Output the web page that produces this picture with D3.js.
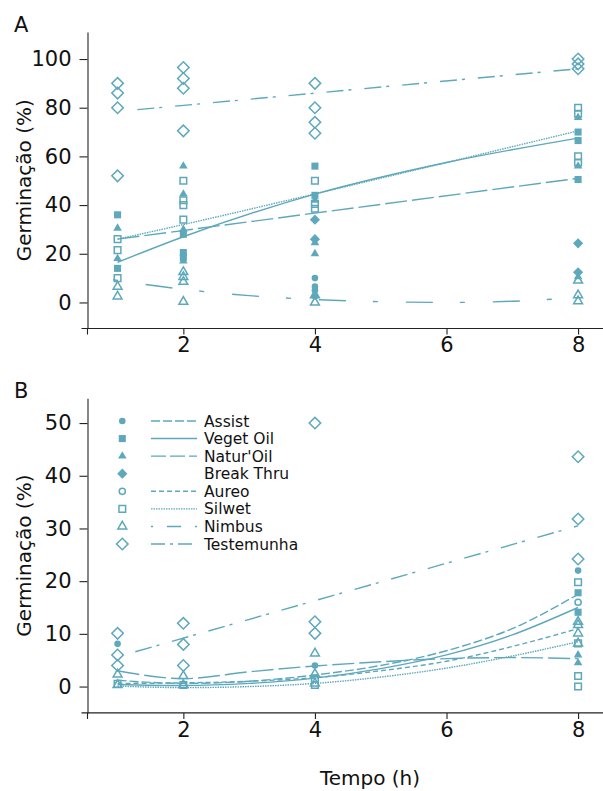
<!DOCTYPE html>
<html><head><meta charset="utf-8">
<script src="https://cdn.jsdelivr.net/npm/d3@7/dist/d3.min.js"></script>
<style>
body{margin:0;background:#fff;}
svg{display:block;font-family:"DejaVu Sans",sans-serif;}
</style></head>
<body><svg id="c" width="603" height="791"></svg>
<script>
// ---------- data ----------
const seriesNames = ["Assist","Veget Oil","Natur'Oil","Break Thru","Aureo","Silwet","Nimbus","Testemunha"];
const xTicks = [2,4,6,8];
const yTicksA = [0,20,40,60,80,100];
const yTicksB = [0,10,20,30,40,50];

// Panel A observed points [time, germination %]
const ptsA_Assist    = [[4,10],[4,6.5],[4,5],[4,2.5]];
const ptsA_VegetOil  = [[1,36],[1,14],[2,28],[2,20.5],[2,18.5],[4,56],[4,44],[8,70],[8,66.5],[8,50.5]];
const ptsA_NaturOil  = [[1,30.5],[1,18],[2,56],[2,44.5],[2,30],[2,17],[4,42],[4,24.5],[4,20],[8,76],[8,56],[8,10.5]];
const ptsA_BreakThru = [[4,34],[4,26],[8,24.3],[8,12.4]];
const ptsA_Aureo     = [];
const ptsA_Silwet    = [[1,26],[1,21.5],[1,10],[2,50],[2,42],[2,40],[2,34],[4,50],[4,40.5],[4,38.5],[8,80],[8,77.5],[8,60],[8,57.5]];
const ptsA_Nimbus    = [[1,6.5],[1,2.5],[2,12.5],[2,10.5],[2,8.5],[2,0.3],[4,3],[4,0],[8,9],[8,3],[8,0.5]];
const ptsA_Testem    = [[1,90],[1,86],[1,80],[1,52],[2,96.5],[2,92],[2,88],[2,70.5],[4,90],[4,80],[4,74],[4,69.5],[8,100],[8,98],[8,96]];

// Panel A fitted curves
const fitA_VegetOil = [[1,16.5],[2,27],[4,44.5],[6,57.5],[8,67.5]];
const fitA_NaturOil = [[1,26],[8,51]];
const fitA_Silwet   = [[1,26],[2,32],[4,44.6],[6,57.5],[8,70.5]];
const fitA_Nimbus   = [[0.93,9.3],[2,5.4],[3,2.8],[4,1.2],[5,0.3],[6,0],[7,0.5],[8,2]];
const fitA_Testem   = [[1.3,79.2],[8,96]];

// Panel B observed points
const ptsB_Assist    = [[1,8.1],[4,4],[8,22]];
const ptsB_VegetOil  = [[8,17.8],[8,14.1]];
const ptsB_NaturOil  = [[8,6],[8,4.5]];
const ptsB_BreakThru = [];
const ptsB_Aureo     = [[8,16]];
const ptsB_Silwet    = [[1,0.5],[2,0.3],[4,1.5],[4,0.3],[8,19.8],[8,8.2],[8,2],[8,0]];
const ptsB_Nimbus    = [[1,2.3],[1,0.3],[2,2],[2,0.3],[4,6.3],[4,2.4],[4,0.6],[8,12.3],[8,11.7],[8,10.1],[8,8.2]];
const ptsB_Testem    = [[1,10.1],[1,6],[1,4],[2,12],[2,8],[2,4],[4,50],[4,12.3],[4,10.1],[8,43.6],[8,31.8],[8,24.2]];

// Panel B fitted curves
const fitB_Assist   = [[1,1.2],[2,0.6],[3,1],[4,2.2],[5,4],[6,6.8],[7,11],[8,17.5]];
const fitB_VegetOil = [[1,0.4],[2,0.2],[3,0.6],[4,1.6],[5,3.4],[6,6],[7,9.8],[8,15]];
const fitB_NaturOil = [[1,3],[2,1.5],[3,2.8],[4,3.9],[5,4.7],[6,5.3],[7,5.5],[8,5.3]];
const fitB_Aureo    = [[1,0.6],[2,0.7],[3,1],[4,1.7],[5,3],[6,4.8],[7,7.6],[8,11]];
const fitB_Silwet   = [[1,0.1],[2,-0.2],[3,0],[4,0.6],[5,1.8],[6,3.5],[7,5.8],[8,8.5]];
const fitB_Testem   = [[1.27,6.6],[8,30.5]];

// ---------- styling ----------
const col = "#5ea8bc";
const markerOf = {"Assist":"circleF","Veget Oil":"squareF","Natur'Oil":"triangleF","Break Thru":"diamondF",
  "Aureo":"circleO","Silwet":"squareO","Nimbus":"triangleO","Testemunha":"diamondO"};
const dashOf = {"Assist":"9,3","Veget Oil":null,"Natur'Oil":"22,5","Break Thru":"none","Aureo":"5,3",
  "Silwet":"1.5,1","Nimbus":"5,28,27,27","Testemunha":"17,5,3,13"};
const legendDash = {"Assist":"9,3","Veget Oil":null,"Natur'Oil":"15,4","Break Thru":"none","Aureo":"5,3",
  "Silwet":"1.5,1","Nimbus":"2,14,14,14","Testemunha":"14,5,3,5"};

const svg = d3.select("#c");
const x = d3.scaleLinear().domain([0.543, 8.4]).range([87.5, 604.4]);

function marker(g, type, cx, cy){
  let sym, size, rot=0, fill=col, stroke="none";
  if(type.startsWith("circle")){sym=d3.symbolCircle; size=type.endsWith("F")?34:30;}
  else if(type.startsWith("square")){sym=d3.symbolSquare; size=type.endsWith("F")?50:44;}
  else if(type.startsWith("triangle")){sym=d3.symbolTriangle; size=type.endsWith("F")?32:34;}
  else {sym=d3.symbolSquare; size=type.endsWith("F")?52:66; rot=45;}
  if(type.endsWith("O")){fill="none"; stroke=col;}
  g.append("path").attr("d", d3.symbol().type(sym).size(size)())
    .attr("transform", `translate(${cx},${cy}) rotate(${rot})`)
    .attr("fill", fill).attr("stroke", stroke).attr("stroke-width", 1.5);
}

function panel(opts){
  const y = d3.scaleLinear().domain(opts.yDomain).range(opts.yRange);
  const g = svg.append("g");
  const [x0, x1] = x.range();
  const [yb, yt] = y.range();
  // x axis
  const ax = g.append("g").attr("transform", `translate(0,${yb})`)
    .call(d3.axisBottom(x).tickValues(xTicks).tickSize(6).tickSizeOuter(6).tickPadding(3).tickFormat(d3.format("d")));
  ax.select(".domain").attr("d", `M${x0},6V0H${x1}M${x0-6},0H${x0}`);
  // y axis
  const ay = g.append("g").attr("transform", `translate(${x0},0)`)
    .call(d3.axisLeft(y).tickValues(opts.yTicks).tickSize(8).tickSizeOuter(0).tickPadding(8).tickFormat(d3.format("d")));
  [ax, ay].forEach(a=>{
    a.selectAll("text").attr("font-size", 21).attr("fill","#111").attr("font-family","DejaVu Sans");
    a.selectAll("line,path").attr("stroke","#222").attr("stroke-width",1.1);
  });
  // title and panel letter
  g.append("text").attr("transform", `translate(31,${(yb+yt)/2}) rotate(-90)`)
    .attr("text-anchor","middle").attr("font-size",20).attr("fill","#111").text("Germinação (%)");
  g.append("text").attr("x",14).attr("y", yt).attr("font-size",21).attr("fill","#111").text(opts.letter);

  const line = d3.line().x(d=>x(d[0])).y(d=>y(d[1])).curve(d3.curveMonotoneX);
  opts.fits.forEach(([name, data])=>{
    const p = g.append("path").attr("d", line(data)).attr("fill","none").attr("stroke",col).attr("stroke-width",1.4);
    if(dashOf[name]) p.attr("stroke-dasharray", dashOf[name]);
  });
  opts.pts.forEach(([name, data])=>{
    data.forEach(d=> marker(g, markerOf[name], x(d[0]), y(d[1])));
  });
  return y;
}

panel({letter:"A", yDomain:[-10.7,111.1], yRange:[328.5,32], yTicks:yTicksA,
  fits:[["Testemunha",fitA_Testem],["Veget Oil",fitA_VegetOil],["Silwet",fitA_Silwet],["Natur'Oil",fitA_NaturOil],["Nimbus",fitA_Nimbus]],
  pts:[["Testemunha",ptsA_Testem],["Silwet",ptsA_Silwet],["Nimbus",ptsA_Nimbus],["Aureo",ptsA_Aureo],["Veget Oil",ptsA_VegetOil],
       ["Natur'Oil",ptsA_NaturOil],["Break Thru",ptsA_BreakThru],["Assist",ptsA_Assist]]});

panel({letter:"B", yDomain:[-5,54.7], yRange:[712.9,398.3], yTicks:yTicksB,
  fits:[["Testemunha",fitB_Testem],["Assist",fitB_Assist],["Veget Oil",fitB_VegetOil],["Natur'Oil",fitB_NaturOil],["Aureo",fitB_Aureo],["Silwet",fitB_Silwet]],
  pts:[["Testemunha",ptsB_Testem],["Silwet",ptsB_Silwet],["Nimbus",ptsB_Nimbus],["Aureo",ptsB_Aureo],["Veget Oil",ptsB_VegetOil],
       ["Natur'Oil",ptsB_NaturOil],["Break Thru",ptsB_BreakThru],["Assist",ptsB_Assist]]});

// legend
const lg = svg.append("g");
const legY = d3.scaleLinear().domain([0,7]).range([421,544]);
seriesNames.forEach((name,i)=>{
  const yy = legY(i);
  marker(lg, markerOf[name], 122.3, yy);
  if(legendDash[name] !== "none"){
    const p = lg.append("line").attr("x1",151).attr("x2",197).attr("y1",yy).attr("y2",yy)
      .attr("stroke",col).attr("stroke-width",1.4);
    if(legendDash[name]) p.attr("stroke-dasharray", legendDash[name]);
  }
  lg.append("text").attr("x",204).attr("y",yy).attr("dy","0.36em").attr("font-size",15.5).attr("fill","#111").text(name);
});

// x title
svg.append("text").attr("x",370).attr("y",785).attr("text-anchor","middle").attr("font-size",20).attr("fill","#111").text("Tempo (h)");
</script></body></html>
